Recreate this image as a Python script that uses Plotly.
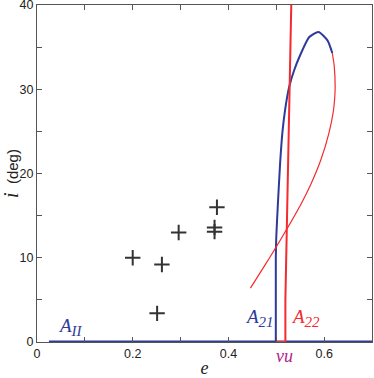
import plotly.graph_objects as go

# e / i values
aII_e = [0.025, 0.70]
aII_i = [0, 0]

a21_e = [0.499, 0.499, 0.500, 0.503, 0.508, 0.513, 0.519, 0.527, 0.537, 0.548,
         0.569, 0.588, 0.607, 0.617]
a21_i = [0, 10, 12.5, 16.0, 21.2, 25.0, 27.8, 30.3, 32.2, 33.8,
         36.2, 36.8, 35.8, 34.3]

a22_loop_e = [0.617, 0.621, 0.623, 0.622, 0.619, 0.610, 0.593, 0.572, 0.551,
              0.524, 0.499, 0.475, 0.446]
a22_loop_i = [34.3, 32.8, 30.3, 28.9, 27.3, 24.8, 21.6, 18.7, 16.3,
              13.6, 11.2, 9.0, 6.4]

a22_e = [0.499, 0.519, 0.519, 0.522, 0.527, 0.531, 0.532]
a22_i = [0, 0, 5, 13.3, 24.6, 38.2, 42]

obj_e = [0.200, 0.261, 0.251, 0.296, 0.371, 0.371, 0.376]
obj_i = [10.0, 9.2, 3.4, 13.0, 13.6, 13.1, 16.0]

x_ticks = [0, 0.2, 0.4, 0.6]
x_minor = [0.1, 0.3, 0.5]
y_ticks = [0, 10, 20, 30, 40]

BLUE = "#2e3a98"
RED = "#f42a2e"
SERIF = "Liberation Serif"
SANS = "Liberation Sans"

fig = go.Figure()
fig.add_trace(go.Scatter(x=aII_e, y=aII_i, mode="lines",
                         line=dict(color=BLUE, width=3), cliponaxis=False))
fig.add_trace(go.Scatter(x=a21_e, y=a21_i, mode="lines",
                         line=dict(color=BLUE, width=2, shape="spline", smoothing=0.6)))
fig.add_trace(go.Scatter(x=a22_loop_e, y=a22_loop_i, mode="lines",
                         line=dict(color=RED, width=1.2, shape="spline", smoothing=0.6)))
fig.add_trace(go.Scatter(x=a22_e, y=a22_i, mode="lines",
                         line=dict(color=RED, width=2)))
fig.add_trace(go.Scatter(x=obj_e, y=obj_i, mode="markers",
                         marker=dict(symbol="cross-thin", size=11,
                                     line=dict(color="#333333", width=2))))


def region_label(name, sub):
    return "<i>%s<sub><span style='font-size:15px'>%s</span></sub></i>" % (name, sub)


ann_font = dict(family=SERIF, size=19)
fig.add_annotation(x=0.071, y=1.8, text=region_label("A", "II"), showarrow=False,
                   font=dict(ann_font, color=BLUE), xanchor="center", yanchor="middle")
fig.add_annotation(x=0.465, y=2.85, text=region_label("A", "21"), showarrow=False,
                   font=dict(ann_font, color=BLUE), xanchor="center", yanchor="middle")
fig.add_annotation(x=0.561, y=2.85, text=region_label("A", "22"), showarrow=False,
                   font=dict(ann_font, color=RED), xanchor="center", yanchor="middle")
fig.add_annotation(x=0.517, xref="x", y=-0.043, yref="paper", text="<i>vu</i>",
                   showarrow=False, font=dict(family=SERIF, size=18, color="#b0238c"),
                   xanchor="center", yanchor="middle")

axis_common = dict(
    showgrid=False, zeroline=False, showline=True, mirror="ticks",
    linecolor="#555555", linewidth=1, ticks="inside", ticklen=5,
    tickcolor="#555555", tickfont=dict(family=SANS, size=12.5, color="#222222"),
    automargin=False, ticklabeloverflow="allow",
)

fig.update_layout(
    width=374, height=378,
    margin=dict(l=37, r=2, t=5, b=36),
    plot_bgcolor="white", paper_bgcolor="white",
    showlegend=False,
    xaxis=dict(axis_common, range=[0, 0.7], tickvals=x_ticks,
               ticktext=["0", "0.2", "0.4", "0.6"],
               minor=dict(tickvals=x_minor, ticks="inside", ticklen=5, tickcolor="#555555"),
               title=dict(text="<i>e</i>", font=dict(family=SERIF, size=18, color="#222222"),
                          standoff=10)),
    yaxis=dict(axis_common, range=[0, 40], tickvals=y_ticks,
               minor=dict(dtick=5, ticks="inside", ticklen=5, tickcolor="#555555"),
               title=dict(text="<span style='font-family:Liberation Serif;font-size:20px'><i>i</i></span>"
                               "  <span style='font-size:15px'>(deg)</span>",
                          font=dict(family=SANS, size=15, color="#222222"), standoff=5)),
)

# page body has a default 8px margin; drop it so the figure sits at the window origin
fig.write_html("out.html", config={"displayModeBar": False},
               post_script="document.body.style.margin='0';")
